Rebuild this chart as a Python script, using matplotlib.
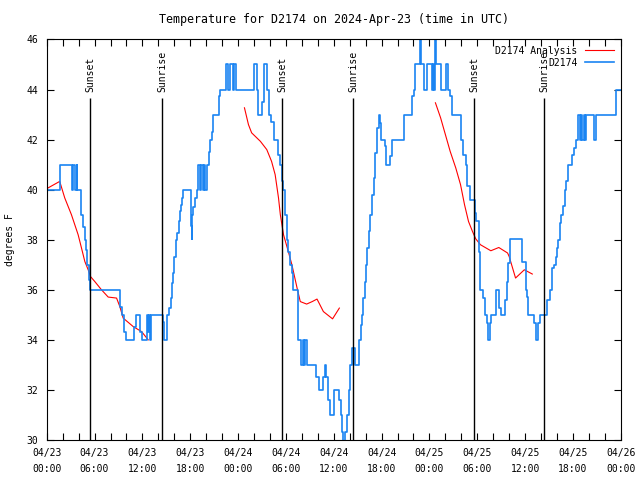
import matplotlib
matplotlib.use("Agg")
import numpy as np
import matplotlib.pyplot as plt

# hours since 2024-04-23 00:00 UTC
obs_hours = [0, 1.72, 3.18, 3.35, 3.55, 3.75, 3.85, 4.27, 4.5, 4.75, 4.95, 5.1, 5.25, 5.35, 5.45,
             9.17, 9.47, 9.75, 10.0, 10.97, 11.2, 11.7, 11.9, 12.6, 12.7, 12.8, 12.94, 13.07,
             14.53, 14.7, 15.04, 15.12, 15.37, 15.58, 15.71, 15.87, 16.0, 16.17, 16.38, 16.59,
             16.71, 16.84, 17.0, 17.13, 18.05, 18.18, 18.26, 18.39, 18.6, 18.8, 19.0, 19.22,
             19.39, 19.56, 19.72, 19.89, 20.06, 20.31, 20.48, 20.69, 20.9, 21.57, 21.78, 22.49,
             22.79, 23.0, 23.41, 23.5, 23.75, 26.05, 26.34, 26.45, 26.55, 26.98, 27.31, 27.6,
             27.9, 28.15, 28.45, 28.99, 29.2, 29.49, 29.66, 29.9, 30.1, 30.32, 30.53, 30.74,
             30.83, 31.5, 31.85, 32.1, 32.25, 32.45, 32.6, 33.76, 34.1, 34.64, 34.85, 35.08,
             35.27, 35.48, 36.02, 36.69, 36.86, 37.03, 37.15, 37.4, 37.66, 37.86, 38.07, 38.28,
             38.7, 39.21, 39.37, 39.54, 39.71, 39.88, 40.04, 40.21, 40.38, 40.59, 40.8, 41.01,
             41.22, 41.42, 41.63, 41.84, 41.97, 42.39, 42.56, 43.1, 43.31, 44.78, 45.83, 46.03,
             46.24, 46.79, 46.96, 47.29, 47.71, 48.34, 48.46, 48.55, 48.67, 48.84, 49.39, 50.02,
             50.3, 50.64, 50.85, 51.98, 52.23, 52.53, 52.74, 53.03, 53.7, 53.9, 54.2, 54.4,
             54.7, 54.96, 55.25, 55.38, 55.54, 55.67, 56.3, 56.71, 56.93, 57.47, 57.68, 57.85,
             58.1, 59.65, 60.07, 60.28, 60.36, 61.12, 61.41, 61.62, 61.83, 62.79, 63.12, 63.41,
             63.62, 63.83, 63.96, 64.13, 64.33, 64.55, 64.76, 64.97, 65.17, 65.43, 65.93, 66.14,
             66.43, 66.68, 66.85, 67.02, 67.18, 67.35, 67.52, 67.69, 68.65, 68.94, 71.46, 72.0]
obs_temps = [40, 41, 40, 41, 40, 41, 40, 39, 38.5, 38, 37.6, 37, 36.8, 36.4, 36,
             35.3, 35.0, 34.3, 34, 34.5, 35, 34.3, 34, 35, 34.3, 35, 34, 35,
             34.73, 34, 34.6, 35, 35.27, 35.67, 36.27, 36.67, 37.33, 38.0, 38.27, 38.73,
             39.13, 39.4, 39.67, 40, 38.53, 38.04, 39.0, 39.3, 39.67, 40, 41, 40,
             41, 40, 41, 40, 41, 41.5, 42, 42.3, 43, 43.73, 44, 45,
             44, 45, 44, 45, 44, 45, 44, 43.5, 43, 43.5, 45, 44,
             43, 42.7, 42, 41.4, 41, 40.33, 40, 39, 38, 37.53, 37, 36.67,
             36, 34, 33, 34, 33, 34, 33, 32.5, 32, 32.5, 33, 32.5,
             31.6, 31, 32, 31.6, 31, 30.33, 29.8, 30.33, 31, 32, 33, 33.67,
             33, 34, 34.6, 35, 35.67, 36.33, 37.0, 37.67, 38.33, 39.0, 39.8, 40.47,
             41.47, 42.47, 43, 42.67, 42, 41.73, 41, 41.33, 42, 43, 43.73, 44,
             45, 46, 45, 44, 45, 44, 45, 44, 46, 45, 44, 45,
             44, 43.73, 43, 42, 41.4, 41, 40.13, 39.6, 39.07, 38.73, 37.53, 36.0,
             35.67, 35.0, 34.67, 34.0, 34.67, 35.0, 36.0, 35.27, 35.0, 35.6, 36.33, 37.07,
             38.03, 37.13, 36.0, 35.73, 35.0, 34.67, 34.0, 34.67, 35.0, 35.6, 36, 36.87,
             37, 37.33, 37.67, 38, 38.67, 39, 39.33, 40, 40.33, 41, 41.4, 41.67,
             42, 43, 42, 43, 42, 43, 42, 43, 42, 43, 44, 44]

# analysis runs (three separate segments)
ana1_hours = [0, 1.63, 2.26, 3.1, 3.94, 4.36, 4.78, 5.2, 5.49, 6.03, 6.87, 7.71, 8.76, 9.17,
              9.59, 10.85, 11.9, 12.73]
ana1_temps = [40.04, 40.33, 39.67, 39.0, 38.2, 37.67, 37.13, 36.8, 36.53, 36.33, 36.0, 35.71,
              35.67, 35.33, 34.87, 34.53, 34.33, 34.0]
ana2_hours = [24.8, 25.3, 25.7, 26.8, 27.6, 28.2, 28.65, 29.07, 29.3, 29.7, 30.3, 30.75, 31.4,
              31.8, 32.6, 33.3, 33.9, 34.7, 35.85, 36.7]
ana2_temps = [43.27, 42.6, 42.27, 41.93, 41.6, 41.13, 40.6, 39.67, 39.0, 38.2, 37.53, 37.0, 36.07,
              35.53, 35.43, 35.53, 35.63, 35.13, 34.84, 35.27]
ana3_hours = [48.75, 49.4, 50.0, 50.6, 51.3, 51.9, 52.4, 52.9, 53.4, 53.8, 54.4, 55.7, 56.7,
              57.8, 58.0, 58.8, 59.9, 60.9]
ana3_temps = [43.47, 42.87, 42.2, 41.53, 40.87, 40.2, 39.4, 38.73, 38.33, 38.04, 37.8, 37.56,
              37.69, 37.47, 37.33, 36.47, 36.8, 36.63]

sunset_hours = [5.48, 29.53, 53.58]
sunrise_hours = [14.50, 38.45, 62.40]

xtick_labels = ["04/23\n00:00", "04/23\n06:00", "04/23\n12:00", "04/23\n18:00",
                "04/24\n00:00", "04/24\n06:00", "04/24\n12:00", "04/24\n18:00",
                "04/25\n00:00", "04/25\n06:00", "04/25\n12:00", "04/25\n18:00",
                "04/26\n00:00"]

plt.rcParams["font.family"] = ["DejaVu Sans Mono"]
plt.rcParams["font.size"] = 7

fig = plt.figure(figsize=(6.4, 4.8), dpi=100)
ax = fig.add_axes([0.073, 0.0833, 0.897, 0.8345])

red = "#ff0000"
blue = "#1a84f2"

ax.plot(ana1_hours, ana1_temps, color=red, lw=0.8, label="D2174 Analysis")
ax.plot(ana2_hours, ana2_temps, color=red, lw=0.8)
ax.plot(ana3_hours, ana3_temps, color=red, lw=0.8)
ax.step(obs_hours, obs_temps, where="post", color=blue, lw=1.2, label="D2174")

for h in sunset_hours:
    ax.vlines(h, 30, 43.65, color="black", lw=1.0)
    ax.text(h, 43.9, "Sunset", rotation=90, ha="center", va="bottom")
for h in sunrise_hours:
    ax.vlines(h, 30, 43.65, color="black", lw=1.0)
    ax.text(h, 43.9, "Sunrise", rotation=90, ha="center", va="bottom")

ax.set_xlim(0, 72)
ax.set_ylim(30, 46)
ax.set_xticks(np.arange(0, 73, 6))
ax.set_xticklabels(xtick_labels, linespacing=1.65)
ax.set_xticks(np.arange(0, 73, 2), minor=True)
ax.set_yticks(np.arange(30, 47, 2))
ax.tick_params(axis="both", which="both", direction="in", length=5, width=0.8,
               top=True, right=True)
ax.tick_params(axis="x", which="major", pad=6)
ax.tick_params(axis="y", which="major", pad=6)

ax.set_ylabel("degrees F")
ax.yaxis.set_label_coords(-0.056, 0.5)
ax.set_title("Temperature for D2174 on 2024-Apr-23 (time in UTC)", pad=12)

for s in ax.spines.values():
    s.set_linewidth(0.8)

ax.legend(loc="upper right", frameon=False, markerfirst=False, handlelength=3.0,
          handletextpad=0.8, labelspacing=0.2, borderaxespad=0.25, borderpad=0.4)

fig.savefig("out.png", dpi=100)
